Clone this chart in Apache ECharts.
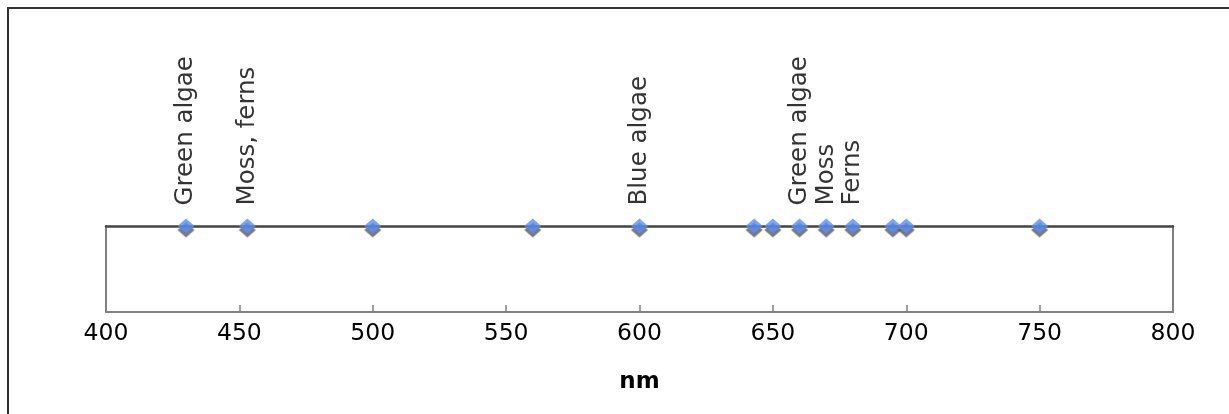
<!DOCTYPE html>
<html>
<head>
<meta charset="utf-8">
<script src="https://cdn.jsdelivr.net/npm/echarts@6/dist/echarts.min.js"></script>
<style>
  html, body { margin: 0; padding: 0; background: #fff; }
  #chart { width: 1229px; height: 414px; }
</style>
</head>
<body>
<div id="chart"></div>
<script>
// wavelengths (nm) of the absorption points
const wavelengths = [430, 453, 500, 560, 600, 643, 650, 660, 670, 680, 695, 700, 750]
// labels for some of the points ('' means no label)
const pointLabels = ['Green algae', 'Moss, ferns', '', '', 'Blue algae', '', '', 'Green algae', 'Moss', 'Ferns', '', '', '']
const xTicks = [400, 450, 500, 550, 600, 650, 700, 750, 800]

const font = 'DejaVu Sans'
const chart = echarts.init(document.getElementById('chart'))

const points = wavelengths.map((w, i) => ({
    value: [w, 1],
    label: { show: pointLabels[i] !== '', formatter: pointLabels[i] }
}))

const option = {
    animation: false,
    grid: {
        left: 106,
        right: 56,
        top: 226,
        bottom: 102
    },
    graphic: [{
        type: 'polyline',
        shape: { points: [[8, 414], [8, 8], [1229, 8]] },
        style: { stroke: '#333', lineWidth: 2, fill: null }
    }],
    xAxis: [{
        type: 'value',
        min: xTicks[0],
        max: xTicks[xTicks.length - 1],
        interval: 50,
        name: 'nm',
        nameLocation: 'middle',
        nameGap: 59,
        nameTextStyle: { fontFamily: font, fontSize: 23, fontWeight: 'bold', color: '#000' },
        axisLine: { onZero: false, lineStyle: { color: '#808080', width: 2 } },
        axisTick: { inside: true, length: 7, lineStyle: { color: '#808080', width: 1.5 } },
        axisLabel: { fontFamily: font, fontSize: 23.5, color: '#000', margin: 10 },
        splitLine: { show: false }
    }, {
        type: 'value',
        position: 'top',
        min: 400,
        max: 800,
        axisLine: { show: true, onZero: false, lineStyle: { color: '#444', width: 2.5 } },
        axisTick: { show: false },
        axisLabel: { show: false },
        splitLine: { show: false }
    }],
    yAxis: [{
        type: 'value',
        min: 0,
        max: 1,
        axisLine: { show: true, onZero: false, lineStyle: { color: '#808080', width: 2 } },
        axisTick: { show: false },
        axisLabel: { show: false },
        splitLine: { show: false }
    }, {
        type: 'value',
        position: 'right',
        min: 0,
        max: 1,
        axisLine: { show: true, onZero: false, lineStyle: { color: '#808080', width: 2 } },
        axisTick: { show: false },
        axisLabel: { show: false },
        splitLine: { show: false }
    }],
    series: [{
        type: 'scatter',
        xAxisIndex: 0,
        yAxisIndex: 0,
        symbol: 'diamond',
        symbolSize: [17, 15],
        itemStyle: {
            color: '#5a8ff7',
            shadowColor: 'rgba(80,80,80,0.95)',
            shadowOffsetY: 4,
            shadowBlur: 1
        },
        label: {
            position: 'top',
            rotate: 90,
            align: 'left',
            verticalAlign: 'middle',
            distance: 13,
            fontFamily: font,
            fontSize: 24.5,
            color: '#000'
        },
        z: 5,
        data: points
    }]
}
chart.setOption(option)
</script>
</body>
</html>
